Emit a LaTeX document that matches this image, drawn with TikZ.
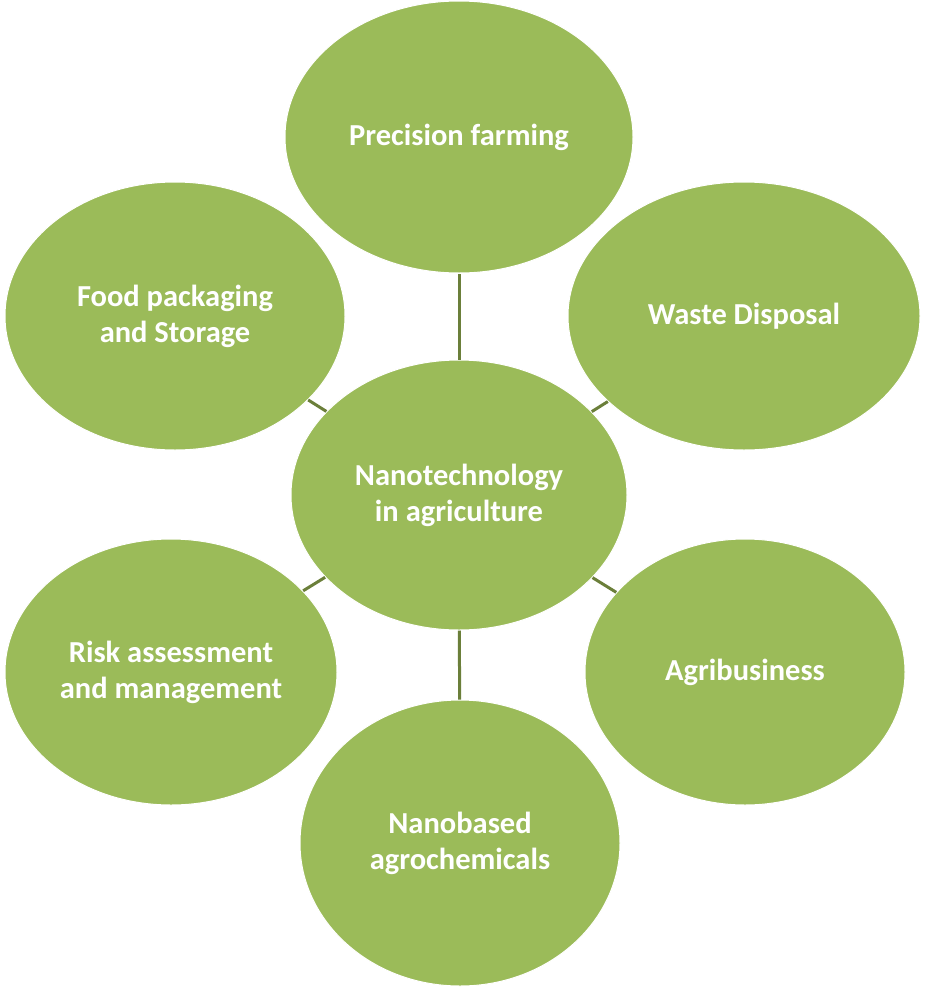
\documentclass[tikz,border=0pt]{standalone}
\usepackage{fontspec}
\setmainfont{Carlito}
\usetikzlibrary{shapes.geometric}
\definecolor{leaf}{HTML}{9BBB59}
\definecolor{stem}{HTML}{6B7F3A}
\tikzset{
  bub/.style={ellipse, fill=leaf, draw=white, line width=1pt, text=white, font=\bfseries\fontsize{30.5}{36}\selectfont, align=center, inner sep=0pt},
  link/.style={draw=stem, line width=3pt}
}
\begin{document}
\begin{tikzpicture}[x=1pt,y=-1pt]
\useasboundingbox (0,0) rectangle (925,988);
\node[bub, minimum width=348, minimum height=272] (t) at (459,137) {Precision farming};
\node[bub, minimum width=352, minimum height=268] (w) at (744,316) {Waste Disposal};
\node[bub, minimum width=340, minimum height=268] (f) at (175,316) {Food packaging\\and Storage};
\node[bub, minimum width=332, minimum height=266] (r) at (171,672) {Risk assessment\\and management};
\node[bub, minimum width=320, minimum height=266] (a) at (745,672) {Agribusiness};
\node[bub, minimum width=320, minimum height=286] (n) at (460,843) {Nanobased\\agrochemicals};
\node[bub, minimum width=336, minimum height=270] (c) at (459,495) {Nanotechnology\\in agriculture};
\foreach \o in {t,w,f,r,a,n} \draw[link] (c) -- (\o);
\end{tikzpicture}
\end{document}
